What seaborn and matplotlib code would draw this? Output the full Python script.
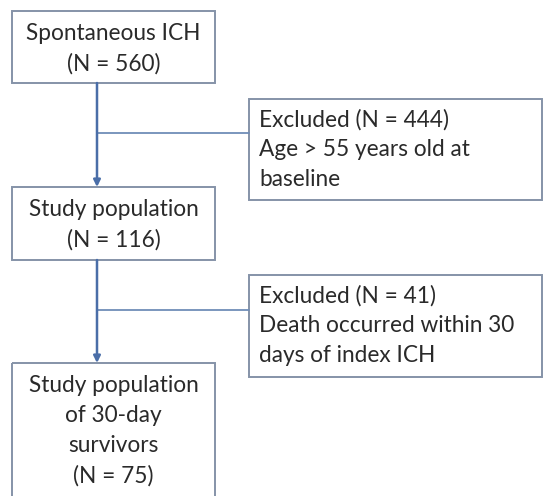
import matplotlib
matplotlib.use("Agg")
import matplotlib.pyplot as plt
import seaborn as sns
from matplotlib.patches import Rectangle

sns.set_theme(style="white")
plt.rcParams["font.family"] = ["Lato", "DejaVu Sans"]

# flowchart content
main_labels = ["Spontaneous ICH", "Study population", "Study population\nof 30-day\nsurvivors"]
main_counts = [560, 116, 75]
excl_counts = [444, 41]
excl_reasons = ["Age > 55 years old at\nbaseline", "Death occurred within 30\ndays of index ICH"]

# layout in pixel units (x0, y0, x1, y1)
main_boxes = [(12, 11, 215, 83), (12, 187, 215, 260), (12, 363, 215, 520)]
excl_boxes = [(249, 99, 542, 200), (249, 275, 542, 377)]
branch_y = [133, 310]
line_gap = 30

box_edge = "#8593a8"
arrow_col = "#4a6ea8"
text_col = "#2a2a2a"
fs = 16.3

fig = plt.figure(figsize=(5.44, 4.96), dpi=100)
ax = fig.add_axes([0, 0, 1, 1])
ax.set_xlim(0, 544)
ax.set_ylim(496, 0)
ax.axis("off")

for (x0, y0, x1, y1), lab, n in zip(main_boxes, main_labels, main_counts):
    ax.add_patch(Rectangle((x0, y0), x1 - x0, y1 - y0, fill=False,
                           edgecolor=box_edge, linewidth=1.4, zorder=2))
    lines = lab.split("\n") + [f"(N = {n})"]
    for i, t in enumerate(lines):
        ax.text((x0 + x1) / 2, y0 + 23 + i * line_gap, t, ha="center", va="center",
                fontsize=fs, color=text_col)

for (x0, y0, x1, y1), n, reason in zip(excl_boxes, excl_counts, excl_reasons):
    ax.add_patch(Rectangle((x0, y0), x1 - x0, y1 - y0, fill=False,
                           edgecolor=box_edge, linewidth=1.4, zorder=2))
    lines = [f"Excluded (N = {n})"] + reason.split("\n")
    for i, t in enumerate(lines):
        ax.text(x0 + 10, y0 + 21 + i * line_gap, t, ha="left", va="center",
                fontsize=fs, color=text_col)

# arrows between main boxes and branches to exclusion boxes
ax_x = 97
for k in range(2):
    top = main_boxes[k][3]
    bottom = main_boxes[k + 1][1]
    ax.annotate("", xy=(ax_x, bottom), xytext=(ax_x, top),
                arrowprops=dict(arrowstyle="-|>", color=arrow_col, lw=1.8,
                                mutation_scale=10, shrinkA=0, shrinkB=0))
    ax.plot([ax_x, excl_boxes[k][0]], [branch_y[k], branch_y[k]],
            color="#6f8db8", lw=1.3)

fig.savefig("out.png", dpi=100)
